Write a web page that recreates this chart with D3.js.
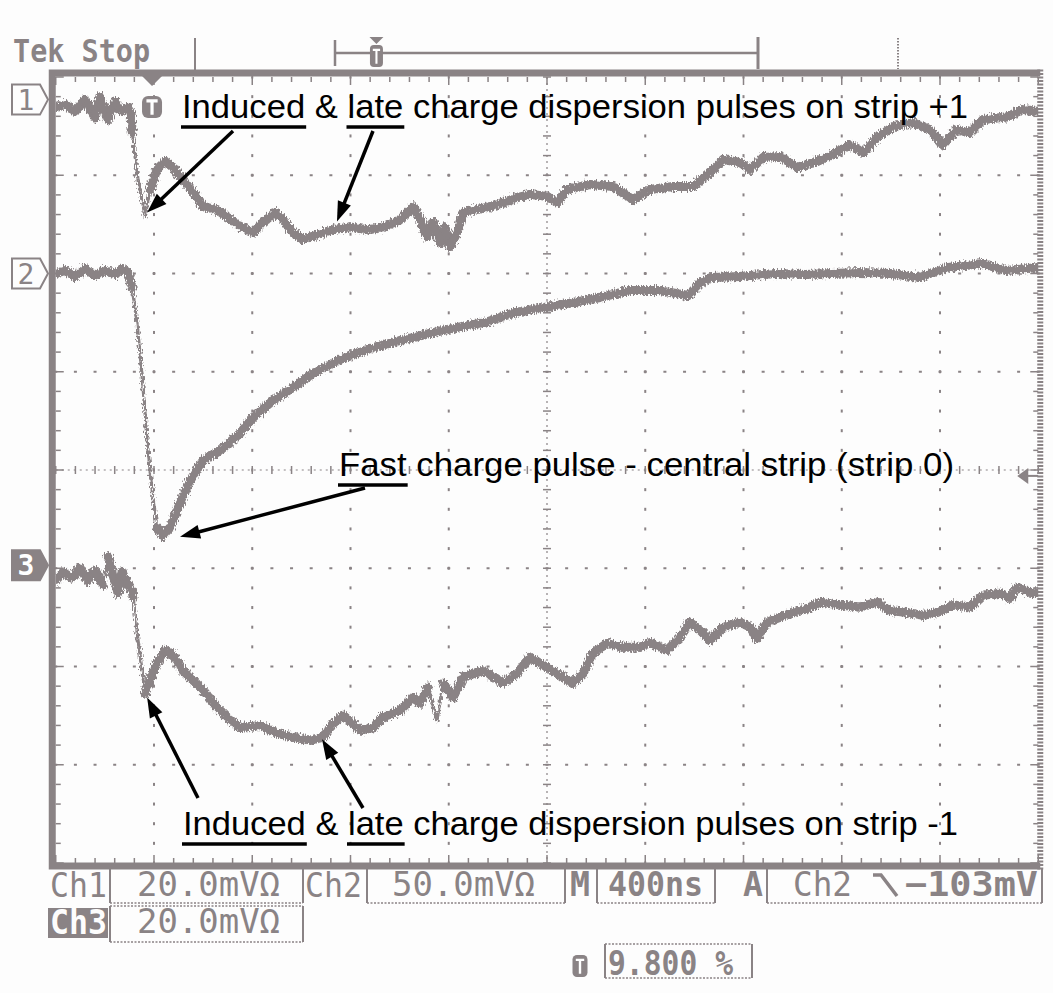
<!DOCTYPE html>
<html><head><meta charset="utf-8">
<script src="https://cdn.jsdelivr.net/npm/d3@7"></script>
<style>html,body{margin:0;background:#fdfdfd}svg{display:block}</style>
</head><body>
<svg id="c" width="1053" height="993"></svg>
<script>
// ---------------- data (time in ns relative to trigger, amplitude in mV) ----------------
const ch1Samples = [[-392,-1.6],[-354,-1.0],[-313,-2.4],[-273,0],[-232,-3.7],[-212,0.6],[-179,-4.1],[-151,-0.4],[-122,-2.4],[-98,-1.6],
 [-85,-3.1],[-81,-6.7],[-57,-16.3],[-28,-23.8],[-8,-18.3],[20,-14.2],[53,-12.6],[85,-13.8],[126,-16.3],[167,-18.9],
 [208,-21.8],[265,-22.4],[318,-24.4],[370,-26.1],[411,-27.1],[452,-25.0],[501,-23.0],[533,-24.4],[574,-27.1],[615,-28.5],
 [672,-27.5],[737,-26.5],[806,-25.9],[875,-26.5],[940,-26.1],[1010,-24.4],[1063,-21.8],[1091,-24.4],[1120,-27.9],[1144,-25.0],
 [1173,-29.1],[1193,-25.9],[1213,-29.9],[1242,-27.1],[1266,-23.0],[1323,-22.4],[1376,-21.8],[1429,-21.0],[1486,-19.9],[1539,-19.3],
 [1608,-19.7],[1649,-21.0],[1689,-18.3],[1783,-17.3],[1877,-17.7],[1958,-20.4],[2027,-18.3],[2121,-17.7],[2203,-17.7],[2272,-14.9],
 [2325,-12.2],[2394,-12.8],[2435,-14.2],[2488,-11.8],[2557,-11.6],[2626,-13.8],[2707,-12.6],[2772,-11.2],[2842,-9.2],[2895,-10.8],
 [2952,-7.7],[3017,-5.5],[3098,-4.7],[3167,-6.1],[3220,-9.2],[3277,-6.1],[3330,-6.7],[3383,-4.1],[3481,-3.5],[3546,-2.0],[3608,-2.4]];

const ch2Samples = [[-392,0],[-354,1.5],[-313,-1.5],[-273,2.5],[-232,-1.0],[-191,1.5],[-151,-0.5],[-122,2.5],[-98,0.5],[-81,-7.1],
 [-61,-25.4],[-41,-50.9],[-20,-85.0],[0,-110.4],[20,-129.3],[45,-133.3],[73,-129.3],[114,-117.0],[155,-105.3],[208,-95.2],
 [277,-90.1],[358,-81.4],[411,-73.3],[493,-64.6],[574,-58.0],[655,-50.9],[774,-43.3],[888,-38.2],[1010,-34.1],[1132,-30.5],
 [1242,-27.5],[1356,-24.9],[1478,-19.8],[1600,-17.3],[1714,-14.8],[1824,-12.2],[1946,-8.7],[2068,-8.7],[2182,-11.2],[2231,-5.1],
 [2276,-2.0],[2394,-1.5],[2536,0],[2658,-0.5],[2768,0],[2882,0.5],[3005,0],[3123,-2.0],[3241,3.1],[3383,5.1],[3477,1.5],[3608,3.1]];

const ch3Samples = [[-392,-3.1],[-362,-1.4],[-326,-2.6],[-293,-0.6],[-261,-3.1],[-232,-1.0],[-199,-4.1],[-179,1.8],[-159,-2.0],[-138,-5.7],
 [-122,-1.4],[-102,-3.5],[-81,-5.1],[-77,-6.5],[-57,-15.3],[-28,-26.1],[-8,-23.4],[20,-19.9],[53,-17.3],[85,-18.3],
 [126,-21.4],[167,-23.4],[208,-25.4],[265,-28.9],[305,-30.9],[358,-33.0],[440,-32.6],[509,-34.2],[574,-35.0],[643,-35.6],
 [696,-35.0],[737,-32.2],[778,-30.5],[847,-33.6],[900,-33.0],[940,-30.9],[1010,-29.5],[1063,-26.9],[1091,-28.1],[1124,-24.8],
 [1160,-31.6],[1185,-24.0],[1225,-26.9],[1266,-22.8],[1348,-21.4],[1429,-24.0],[1486,-22.0],[1539,-18.7],[1608,-20.8],[1649,-22.0],
 [1714,-24.0],[1755,-22.0],[1795,-17.9],[1852,-15.9],[1917,-16.7],[1987,-16.7],[2027,-15.7],[2097,-17.3],[2149,-14.7],[2190,-11.6],
 [2231,-13.2],[2272,-15.3],[2325,-12.6],[2394,-11.6],[2435,-12.6],[2463,-14.9],[2504,-11.6],[2557,-10.6],[2610,-9.6],[2667,-8.8],
 [2720,-7.5],[2801,-8.1],[2882,-8.5],[2952,-7.5],[3005,-9.2],[3074,-9.6],[3139,-10.2],[3196,-9.6],[3261,-8.1],[3330,-8.5],
 [3383,-6.1],[3452,-5.7],[3493,-6.7],[3522,-4.5],[3575,-5.5],[3608,-5.7]];

// scope settings
const channelIds = ["1", "2", "3"];
const channelVoltsPerDiv = [20, 50, 20];      // mV/div
const channelPositionDiv = [3.77, 2.0, -0.97]; // ground marker, divisions from centre
const timePerDiv = 400;                        // ns/div
const triggerPercent = 9.8;                    // %
const triggerLevel = -103;                     // mV on Ch2
const triggerChannel = 2;

// annotations
const annotationTexts = [
  "Induced & late charge dispersion pulses on strip +1",
  "Fast charge pulse - central strip (strip 0)",
  "Induced & late charge dispersion pulses on strip -1"];
const annotationUnderlined = [["Induced", "late"], ["Fast"], ["Induced", "late"]];
// arrow targets: [channel, time ns, mV]
const arrowTargets = [[1, -20, -23], [1, 753, -24.8], [2, 114, -134], [3, -20, -26.9], [3, 692, -35.4]];

// ---------------- layout ----------------
const GRAY = "#8a8385";
const gx0 = 55.75, gx1 = 1038.25, gy0 = 77, gy1 = 863;
const nDivX = 10, nDivY = 8;
const ddx = (gx1 - gx0) / nDivX, ddy = (gy1 - gy0) / nDivY;
const tStart = -triggerPercent / 100 * timePerDiv * nDivX;

const x = d3.scaleLinear().domain([tStart, tStart + timePerDiv * nDivX]).range([gx0, gx1]);
const yDiv = d3.scaleLinear().domain([-nDivY / 2, nDivY / 2]).range([gy1, gy0]);
const yCh = (ch, mV) => yDiv(channelPositionDiv[ch - 1] + mV / channelVoltsPerDiv[ch - 1]);

const svg = d3.select("#c");
const defs = svg.append("defs");
defs.append("clipPath").attr("id", "scr").append("rect")
  .attr("x", gx0).attr("y", gy0).attr("width", gx1 - gx0).attr("height", gy1 - gy0);
// rough "phosphor" edge for the traces
const flt = defs.append("filter").attr("id", "rough").attr("filterUnits", "userSpaceOnUse")
  .attr("x", 0).attr("y", 0).attr("width", 1053).attr("height", 993);
flt.append("feTurbulence").attr("type", "fractalNoise").attr("baseFrequency", "0.9 0.35")
  .attr("numOctaves", 1).attr("seed", 3).attr("result", "n");
flt.append("feDisplacementMap").attr("in", "SourceGraphic").attr("in2", "n").attr("scale", 8)
  .attr("xChannelSelector", "R").attr("yChannelSelector", "G");

const mono = "'DejaVu Sans Mono', 'Liberation Mono', monospace";
const sans = "'Liberation Sans', Arial, Helvetica, sans-serif";

// ---------------- graticule ----------------
const grid = svg.append("g").attr("fill", GRAY);
const minorY = d3.range(0, nDivY * 5 + 1).map(j => gy0 + j * ddy / 5);
const minorX = d3.range(0, nDivX * 5 + 1).map(j => gx0 + j * ddx / 5);
d3.range(1, nDivX).filter(i => i !== nDivX / 2).forEach(i => {
  const xx = gx0 + i * ddx;
  grid.selectAll(null).data(minorY).join("rect")
    .attr("x", xx - 1).attr("y", d => d - 1.5).attr("width", 2).attr("height", 3);
});
d3.range(1, nDivY).filter(i => i !== nDivY / 2).forEach(i => {
  const yy = gy0 + i * ddy;
  grid.selectAll(null).data(minorX).join("rect")
    .attr("x", d => d - 1.5).attr("y", yy - 1).attr("width", 3).attr("height", 2);
});
// centre axes
const cxC = gx0 + nDivX / 2 * ddx, cyC = gy0 + nDivY / 2 * ddy;
const axes = svg.append("g").attr("stroke", GRAY);
axes.append("line").attr("x1", cxC).attr("x2", cxC).attr("y1", gy0).attr("y2", gy1)
  .attr("stroke-width", 1.2).attr("stroke-dasharray", "2,4");
axes.append("line").attr("x1", gx0).attr("x2", gx1).attr("y1", cyC).attr("y2", cyC)
  .attr("stroke-width", 1.2).attr("stroke-dasharray", "2,4");
axes.selectAll(null).data(minorY).join("line")
  .attr("x1", cxC - 4).attr("x2", cxC + 4).attr("y1", d => d).attr("y2", d => d).attr("stroke-width", 1.5);
axes.selectAll(null).data(minorX).join("line")
  .attr("y1", cyC - 4).attr("y2", cyC + 4).attr("x1", d => d).attr("x2", d => d).attr("stroke-width", 1.5);
// border ticks
const isMajor = (j) => j % 5 === 0;
axes.selectAll(null).data(minorX.map((d, j) => [d, j])).join("line")
  .attr("x1", d => d[0]).attr("x2", d => d[0]).attr("y1", gy0).attr("y2", d => gy0 + (isMajor(d[1]) ? 8 : 5)).attr("stroke-width", 1.5);
axes.selectAll(null).data(minorX.map((d, j) => [d, j])).join("line")
  .attr("x1", d => d[0]).attr("x2", d => d[0]).attr("y1", gy1).attr("y2", d => gy1 - (isMajor(d[1]) ? 8 : 5)).attr("stroke-width", 1.5);
axes.selectAll(null).data(minorY.map((d, j) => [d, j])).join("line")
  .attr("y1", d => d[0]).attr("y2", d => d[0]).attr("x1", gx0).attr("x2", d => gx0 + (isMajor(d[1]) ? 8 : 5)).attr("stroke-width", 1.5);
axes.selectAll(null).data(minorY.map((d, j) => [d, j])).join("line")
  .attr("y1", d => d[0]).attr("y2", d => d[0]).attr("x1", gx1).attr("x2", d => gx1 - (isMajor(d[1]) ? 8 : 5)).attr("stroke-width", 1.5);

// screen border
const bord = svg.append("g").attr("stroke", GRAY).attr("fill", "none");
bord.append("path").attr("d", `M${gx1 + 2},${gy0 - 4}H${gx0 - 3.5}V${gy1 + 3}H${gx1 + 2}`).attr("stroke-width", 7);
bord.append("line").attr("x1", gx1 + 2).attr("x2", gx1 + 2).attr("y1", gy0 - 7.5).attr("y2", gy1 + 6.5)
  .attr("stroke-width", 6).attr("stroke-dasharray", "2,1.5");

// ---------------- traces ----------------
const traces = svg.append("g").attr("clip-path", "url(#scr)").append("g").attr("filter", "url(#rough)");
[ch1Samples, ch2Samples, ch3Samples].forEach((samples, k) => {
  const ch = k + 1;
  const pts = samples.map(d => [x(d[0]), yCh(ch, d[1])]);
  traces.append("path").attr("d", d3.line()(pts))
    .attr("fill", "none").attr("stroke", GRAY).attr("stroke-width", 3.2).attr("stroke-linejoin", "round");
  const segs = d3.pairs(pts).filter(([a, b]) => Math.abs(b[1] - a[1]) <= 25);
  traces.selectAll(null).data(segs).join("line")
    .attr("x1", d => d[0][0]).attr("y1", d => d[0][1]).attr("x2", d => d[1][0]).attr("y2", d => d[1][1])
    .attr("stroke", GRAY).attr("stroke-width", 9).attr("stroke-linecap", "round");
});

// ---------------- markers ----------------
function tIcon(g, cxp, y0, w, h) {
  g.append("rect").attr("x", cxp - w / 2).attr("y", y0).attr("width", w).attr("height", h).attr("rx", w * 0.3).attr("fill", GRAY);
  g.append("path").attr("d", `M${cxp - w * 0.28},${y0 + h * 0.22}H${cxp + w * 0.28}M${cxp},${y0 + h * 0.22}V${y0 + h * 0.85}`)
    .attr("stroke", "#fff").attr("stroke-width", Math.max(2, w * 0.16));
}
const mk = svg.append("g");
channelIds.forEach((id, k) => {
  const yy = yDiv(channelPositionDiv[k]);
  const filled = id === "3";
  mk.append("path").attr("d", `M12,${yy - 15}H40L48,${yy}L40,${yy + 15}H12Z`)
    .attr("fill", filled ? GRAY : "#fdfdfd").attr("stroke", GRAY).attr("stroke-width", 2);
  mk.append("text").attr("x", 26).attr("y", yy + 10).attr("text-anchor", "middle")
    .attr("font-family", mono).attr("font-size", 28).attr("fill", filled ? "#fff" : GRAY)
    .attr("font-weight", filled ? "bold" : "normal").text(id);
});
const trigX = x(0);
mk.append("path").attr("d", `M${trigX - 10},${gy0 - 1}H${trigX + 10}L${trigX},${gy0 + 9}Z`).attr("fill", GRAY);
tIcon(mk, trigX, 96, 20, 22);
const trigY = yCh(triggerChannel, triggerLevel);
mk.append("path").attr("d", `M${gx1 - 21},${trigY}L${gx1 - 10},${trigY - 8}V${trigY + 8}Z`).attr("fill", GRAY);
mk.append("line").attr("x1", gx1 - 12).attr("x2", gx1).attr("y1", trigY).attr("y2", trigY).attr("stroke", GRAY).attr("stroke-width", 2);

// ---------------- top status bar ----------------
const topBar = svg.append("g");
topBar.append("text").attr("x", 13).attr("y", 62).attr("font-family", mono).attr("font-weight", "bold")
  .attr("font-size", 32).attr("fill", GRAY).attr("textLength", 137).attr("lengthAdjust", "spacingAndGlyphs").text("Tek Stop");
topBar.append("line").attr("x1", 195).attr("x2", 195).attr("y1", 38).attr("y2", 70).attr("stroke", GRAY).attr("stroke-width", 2);
const brL = 335, brR = 758;
topBar.append("line").attr("x1", brL).attr("x2", brR).attr("y1", 53).attr("y2", 53).attr("stroke", GRAY).attr("stroke-width", 2.5);
topBar.append("line").attr("x1", brL).attr("x2", brL).attr("y1", 40).attr("y2", 66).attr("stroke", GRAY).attr("stroke-width", 2.5);
topBar.append("line").attr("x1", brR).attr("x2", brR).attr("y1", 37).attr("y2", 69).attr("stroke", GRAY).attr("stroke-width", 3);
const brT = brL + triggerPercent / 100 * (brR - brL);
topBar.append("path").attr("d", `M${brT - 7},37H${brT + 7}L${brT},44Z`).attr("fill", GRAY);
tIcon(topBar, brT, 45, 13, 22);
topBar.append("line").attr("x1", 898).attr("x2", 898).attr("y1", 38).attr("y2", 69).attr("stroke", GRAY)
  .attr("stroke-width", 2).attr("stroke-dasharray", "1.5,1.5");

// ---------------- bottom readout ----------------
const fmtV = v => d3.format(".1f")(v) + "mV\u03A9";
const readout = svg.append("g").attr("font-family", mono).attr("fill", GRAY);
function label(t, x0, yb, w, opts = {}) {
  return readout.append("text").attr("x", x0).attr("y", yb).attr("font-size", opts.size || 34)
    .attr("font-weight", opts.bold ? "bold" : "normal").attr("fill", opts.fill || GRAY)
    .attr("textLength", w).attr("lengthAdjust", "spacingAndGlyphs").text(t);
}
function box(x0, x1, y0, y1, topLine) {
  const b = readout.append("g").attr("stroke", GRAY).attr("fill", "none");
  b.append("line").attr("x1", x0).attr("x2", x0).attr("y1", y0).attr("y2", y1).attr("stroke-width", 2);
  b.append("line").attr("x1", x1).attr("x2", x1).attr("y1", y0).attr("y2", y1).attr("stroke-width", 2);
  b.append("line").attr("x1", x0).attr("x2", x1).attr("y1", y1).attr("y2", y1).attr("stroke-width", 1.5).attr("stroke-dasharray", "2,1.5");
  if (topLine) b.append("line").attr("x1", x0).attr("x2", x1).attr("y1", y0).attr("y2", y0).attr("stroke-width", 1.5).attr("stroke-dasharray", "2,1.5");
}
label("Ch" + channelIds[0], 50, 897, 57);
box(110, 303, 869, 903, false);
label(fmtV(channelVoltsPerDiv[0]), 137, 896, 143);
label("Ch" + channelIds[1], 305, 897, 57);
box(367, 565, 869, 903, false);
label(fmtV(channelVoltsPerDiv[1]), 392, 896, 143);
label("M", 570, 896, 20, {bold: true});
box(597, 715, 869, 903, false);
label(timePerDiv + "ns", 608, 896, 95, {bold: true});
label("A", 743, 896, 20, {bold: true});
box(767, 1042, 869, 903, false);
label("Ch" + triggerChannel, 793, 896, 59);
readout.append("path").attr("d", "M873,875H881L897,896").attr("stroke", GRAY).attr("stroke-width", 3.5).attr("fill", "none");
label(d3.format("d")(triggerLevel) + "mV", 905, 896, 133, {bold: true});
readout.append("rect").attr("x", 48).attr("y", 908).attr("width", 60).attr("height", 30).attr("fill", GRAY);
label("Ch" + channelIds[2], 50, 934, 57, {fill: "#fdfdfd", bold: true});
box(110, 303, 906, 942, true);
label(fmtV(channelVoltsPerDiv[2]), 137, 933, 143);
tIcon(readout, 580, 955, 15, 22);
box(605, 752, 944, 978, true);
label(d3.format(".3f")(triggerPercent) + " %", 608, 975, 125, {bold: true});

// ---------------- annotations ----------------
const ann = svg.append("g").attr("font-family", sans).attr("fill", "#000");
const annLayout = [[182, 118, 786], [339, 476, 615], [183, 835, 775]];
annotationTexts.forEach((t, i) => {
  const [ax, ay, aw] = annLayout[i];
  const node = ann.append("text").attr("x", ax).attr("y", ay).attr("font-size", 33)
    .attr("textLength", aw).attr("lengthAdjust", "spacingAndGlyphs").text(t).node();
  annotationUnderlined[i].forEach(word => {
    const s = t.indexOf(word), e = s + word.length - 1;
    const x0 = node.getStartPositionOfChar(s).x, x1 = node.getEndPositionOfChar(e).x;
    ann.append("line").attr("x1", x0 - 1).attr("x2", x1 + 1).attr("y1", ay + 9).attr("y2", ay + 9)
      .attr("stroke", "#000").attr("stroke-width", 3.5);
  });
});
const arrowTails = [[233, 131], [373, 131], [365, 488], [198, 798], [363, 808]];
arrowTargets.forEach((tg, i) => {
  const tip = [x(tg[1]), yCh(tg[0], tg[2])];
  const tail = arrowTails[i];
  const ang = Math.atan2(tip[1] - tail[1], tip[0] - tail[0]);
  const L = 20, Wd = 7;
  const bx = tip[0] - L * Math.cos(ang), by = tip[1] - L * Math.sin(ang);
  const px = -Math.sin(ang) * Wd, py = Math.cos(ang) * Wd;
  ann.append("line").attr("x1", tail[0]).attr("y1", tail[1]).attr("x2", bx + 2 * Math.cos(ang)).attr("y2", by + 2 * Math.sin(ang))
    .attr("stroke", "#000").attr("stroke-width", 3.5);
  ann.append("path").attr("d", `M${tip[0]},${tip[1]}L${bx + px},${by + py}L${bx - px},${by - py}Z`).attr("fill", "#000");
});
</script>
</body></html>
